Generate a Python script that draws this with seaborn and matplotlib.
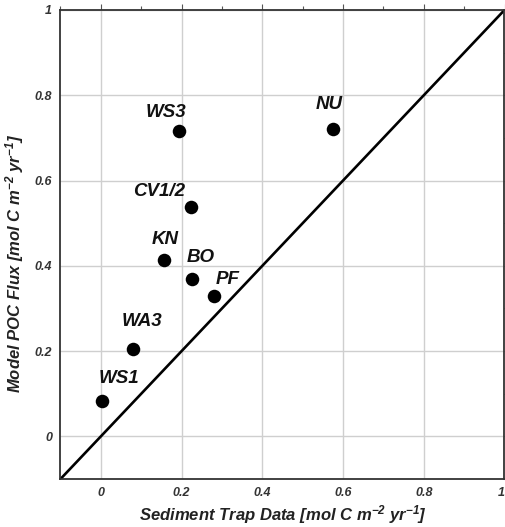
import pandas as pd
import matplotlib.pyplot as plt
import seaborn as sns
from matplotlib.ticker import MultipleLocator

# Site labels and fluxes
sites = ["WS1", "WA3", "KN", "BO", "PF", "CV1/2", "WS3", "NU"]
trap_flux = [0.002, 0.079, 0.157, 0.225, 0.280, 0.224, 0.194, 0.576]
model_flux = [0.083, 0.205, 0.414, 0.369, 0.329, 0.539, 0.717, 0.721]

# label offsets from each dot (pixels)
label_offsets = {
    "WS1": (17, 22), "WA3": (9, 27), "KN": (1, 20), "BO": (9, 22),
    "PF": (14, 17), "CV1/2": (-32, 15), "WS3": (-13, 18), "NU": (-4, 24),
}

sns.set_style("white")
plt.rcParams['font.family'] = ['Liberation Sans', 'DejaVu Sans']
plt.rcParams['mathtext.default'] = 'regular'

df = pd.DataFrame({"site": sites, "trap": trap_flux, "model": model_flux})

fig = plt.figure(figsize=(5.06, 5.27), dpi=100)
ax = fig.add_axes([60.5 / 506, 1 - 479 / 527, 444 / 506, 469 / 527])

ax.set_xlim(-0.1, 1.0)
ax.set_ylim(-0.1, 1.0)

# grid at major ticks only
ax.xaxis.set_major_locator(MultipleLocator(0.2))
ax.yaxis.set_major_locator(MultipleLocator(0.2))
ax.xaxis.set_minor_locator(MultipleLocator(0.1))
ax.yaxis.set_minor_locator(MultipleLocator(0.1))
ax.grid(True, which='major', color='#cfcfcf', linewidth=1.0)
ax.set_axisbelow(True)

# 1:1 line
ax.axline((0, 0), slope=1, color='black', linewidth=1.9, zorder=2)

sns.scatterplot(data=df, x="trap", y="model", s=95, color='black',
                edgecolor='black', linewidth=0, ax=ax, zorder=3)

for _, row in df.iterrows():
    dx, dy = label_offsets[row["site"]]
    ax.annotate(row["site"], (row["trap"], row["model"]),
                xytext=(dx, dy), textcoords='offset pixels',
                ha='center', va='center', fontsize=13.5,
                fontweight='bold', fontstyle='italic', color='#111111')

def fmt(v, _):
    if abs(v) < 1e-9:
        return "0"
    if abs(v - 1) < 1e-9:
        return "1"
    return f"{v:.1f}"

ax.xaxis.set_major_formatter(fmt)
ax.yaxis.set_major_formatter(fmt)

for spine in ax.spines.values():
    spine.set_color('#333333')
    spine.set_linewidth(1.3)

ax.tick_params(which='both', direction='out', top=True, right=True,
               color='#555555', width=0.8)
ax.tick_params(which='major', length=4, pad=2, labelsize=9, labelcolor='#333333')
ax.tick_params(which='minor', length=3)

ax.set_xlabel("Sediment Trap Data [mol C m$^{-2}$ yr$^{-1}$]", fontsize=12,
              fontweight='bold', fontstyle='italic', color='#222222')
ax.set_ylabel("Model POC Flux [mol C m$^{-2}$ yr$^{-1}$]", fontsize=12,
              fontweight='bold', fontstyle='italic', color='#222222')
ax.xaxis.set_label_coords(0.5, -0.051)
ax.yaxis.set_label_coords(-0.078, 0.46)

fig.canvas.draw()
for lbl in ax.get_xticklabels() + ax.get_yticklabels():
    lbl.set_fontstyle('italic')
    lbl.set_fontweight('bold')
# keep the "1" at the right edge inside the figure
xlabels = [t for t in ax.get_xticklabels() if t.get_text() == "1"]
for t in xlabels:
    t.set_horizontalalignment('right')

fig.savefig("out.png", dpi=100, facecolor='white')
